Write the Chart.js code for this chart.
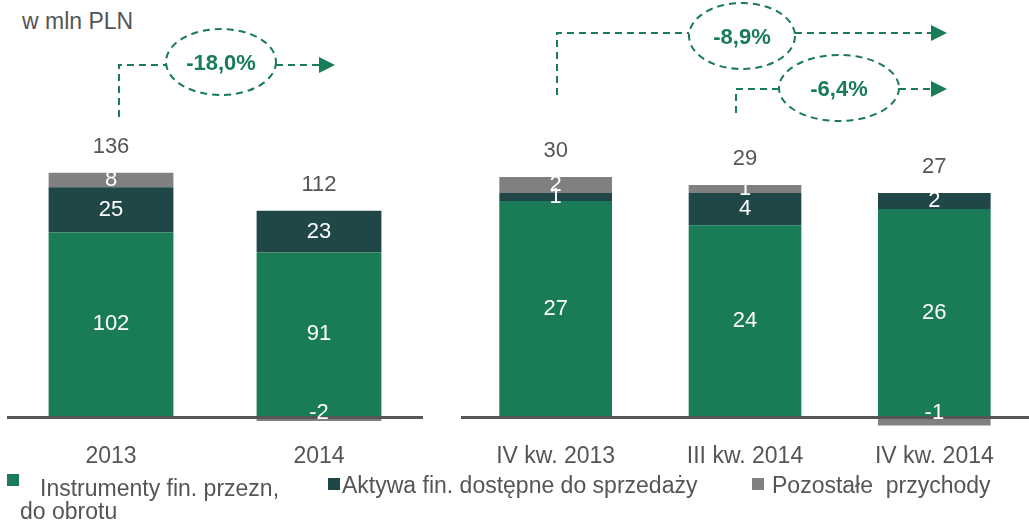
<!DOCTYPE html>
<html>
<head>
<meta charset="utf-8">
<script src="https://cdn.jsdelivr.net/npm/chart.js@4.4.0/dist/chart.umd.min.js"></script>
<style>
    body { margin: 0; background: #fff; font-family: 'Liberation Sans', Arial, sans-serif; color: #555; }
    #strona { position: relative; width: 1029px; height: 523px; overflow: hidden; }
    .wykres { position: absolute; top: 0; height: 475px; }
    .txt { position: absolute; font-size: 23px; line-height: 24px; white-space: pre; }
    .kw { position: absolute; width: 12px; height: 12px; }
</style>
</head>
<body>
<div id="strona">
    <div class="txt" style="left:22px;top:9px;">w mln PLN</div>
    <div class="wykres" style="left:0;width:424px;"><canvas id="roczny"></canvas></div>
    <div class="wykres" style="left:460px;width:569px;"><canvas id="kwartalny"></canvas></div>

    <div class="kw" style="left:7px;top:474px;background:#1a7b57;"></div>
    <div class="txt" style="left:40px;top:476px;">Instrumenty fin. przezn,</div>
    <div class="txt" style="left:20px;top:499px;">do obrotu</div>
    <div class="kw" style="left:328px;top:478px;background:#1f4747;"></div>
    <div class="txt" style="left:342px;top:473px;">Aktywa fin. dostępne do sprzedaży</div>
    <div class="kw" style="left:752px;top:478px;background:#808080;"></div>
    <div class="txt" style="left:772px;top:473px;">Pozostałe  przychody</div>
</div>
<script>
// dane roczne
var okresyRoczne = ['2013', '2014'];
var instrumentyRoczne = [102, 91];
var aktywaRoczne = [25, 23];
var pozostaleRoczne = [8, -2];
var sumyRoczne = [136, 112];

// dane kwartalne
var okresyKw = ['IV kw. 2013', 'III kw. 2014', 'IV kw. 2014'];
var instrumentyKw = [27, 24, 26];
var aktywaKw = [1, 4, 2];
var pozostaleKw = [2, 1, -1];
var sumyKw = [30, 29, 27];

var ZIELONY = '#1a7b57';
var CIEMNY = '#1f4747';
var SZARY = '#808080';
var FONT = '"Liberation Sans", Arial, sans-serif';

var etykiety = {
    id: 'etykiety',
    afterDatasetsDraw: function(chart, args, opts) {
        var ctx = chart.ctx;
        ctx.save();
        ctx.font = '22px ' + FONT;
        ctx.textAlign = 'center';
        ctx.textBaseline = 'middle';
        var gora = [];
        chart.data.datasets.forEach(function(ds, i) {
            var meta = chart.getDatasetMeta(i);
            meta.data.forEach(function(bar, j) {
                var v = ds.data[j];
                var y = v < 0 ? bar.base - 6 : (bar.y + bar.base) / 2;
                ctx.fillStyle = '#fff';
                ctx.fillText(String(v), bar.x, y);
                if (v > 0) gora[j] = Math.min(gora[j] === undefined ? 9999 : gora[j], bar.y);
            });
        });
        var meta0 = chart.getDatasetMeta(0);
        ctx.fillStyle = '#555';
        opts.sumy.forEach(function(s, j) {
            ctx.fillText(String(s), meta0.data[j].x, gora[j] - 26);
        });
        ctx.restore();
    }
};

function strzalka(ctx, a) {
    ctx.save();
    ctx.strokeStyle = ZIELONY;
    ctx.fillStyle = ZIELONY;
    ctx.lineWidth = 2;
    ctx.setLineDash([7, 5]);
    ctx.beginPath();
    ctx.moveTo(a.x0, a.y0);
    ctx.lineTo(a.x0, a.y);
    ctx.lineTo(a.cx - a.rx, a.y);
    ctx.moveTo(a.cx + a.rx, a.y);
    ctx.lineTo(a.xEnd - 15, a.y);
    ctx.stroke();
    ctx.beginPath();
    ctx.ellipse(a.cx, a.cy, a.rx, a.ry, 0, 0, 2 * Math.PI);
    ctx.stroke();
    ctx.setLineDash([]);
    ctx.beginPath();
    ctx.moveTo(a.xEnd - 16, a.y - 8);
    ctx.lineTo(a.xEnd, a.y);
    ctx.lineTo(a.xEnd - 16, a.y + 8);
    ctx.closePath();
    ctx.fill();
    ctx.font = 'bold 22px ' + FONT;
    ctx.textAlign = 'center';
    ctx.textBaseline = 'middle';
    ctx.fillText(a.tekst, a.cx, a.cy + 2);
    ctx.restore();
}

var strzalki = {
    id: 'strzalki',
    afterDraw: function(chart, args, opts) {
        opts.items.forEach(function(a) { strzalka(chart.ctx, a); });
    }
};

function opcje(min, max, padL, padR, sumy, items, szer) {
    return {
        responsive: true,
        maintainAspectRatio: false,
        animation: false,
        layout: { padding: { left: padL, right: padR, top: 0, bottom: 1 } },
        datasets: { bar: { barPercentage: szer, categoryPercentage: 1 } },
        scales: {
            x: {
                stacked: true,
                grid: { display: false, drawTicks: false },
                border: { display: false },
                ticks: { color: '#555', font: { family: FONT, size: 23 }, padding: 4 }
            },
            y: {
                stacked: true,
                min: min,
                max: max,
                z: 1,
                afterBuildTicks: function(scale) { scale.ticks = [{ value: 0 }]; },
                ticks: { display: false },
                border: { display: false },
                grid: {
                    drawTicks: false,
                    lineWidth: 3,
                    color: function(c) { return c.tick && c.tick.value === 0 ? '#555' : 'rgba(0,0,0,0)'; }
                }
            }
        },
        plugins: {
            legend: { display: false },
            tooltip: { enabled: false },
            etykiety: { sumy: sumy },
            strzalki: { items: items }
        }
    };
}

function zbiory(a, b, c) {
    return [
        { label: 'Instrumenty fin. przezn, do obrotu', data: a, backgroundColor: ZIELONY },
        { label: 'Aktywa fin. dostępne do sprzedaży', data: b, backgroundColor: CIEMNY },
        { label: 'Pozostałe przychody', data: c, backgroundColor: SZARY }
    ];
}

new Chart(document.getElementById('roczny').getContext('2d'), {
    type: 'bar',
    data: { labels: okresyRoczne, datasets: zbiory(instrumentyRoczne, aktywaRoczne, pozostaleRoczne) },
    options: opcje(-11.6, 230.4, 7, 1, sumyRoczne, [
        { x0: 119, y0: 117, y: 65, cx: 221, cy: 62, rx: 55, ry: 33, xEnd: 335, tekst: '-18,0%' }
    ], 0.6),
    plugins: [etykiety, strzalki]
});

new Chart(document.getElementById('kwartalny').getContext('2d'), {
    type: 'bar',
    data: { labels: okresyKw, datasets: zbiory(instrumentyKw, aktywaKw, pozostaleKw) },
    options: opcje(-2.62, 52.1, 1, 0, sumyKw, [
        { x0: 97, y0: 95, y: 33, cx: 282, cy: 36, rx: 53, ry: 33, xEnd: 487, tekst: '-8,9%' },
        { x0: 276, y0: 113, y: 89, cx: 379, cy: 88, rx: 60, ry: 33, xEnd: 487, tekst: '-6,4%' }
    ], 0.595),
    plugins: [etykiety, strzalki]
});
</script>
</body>
</html>
